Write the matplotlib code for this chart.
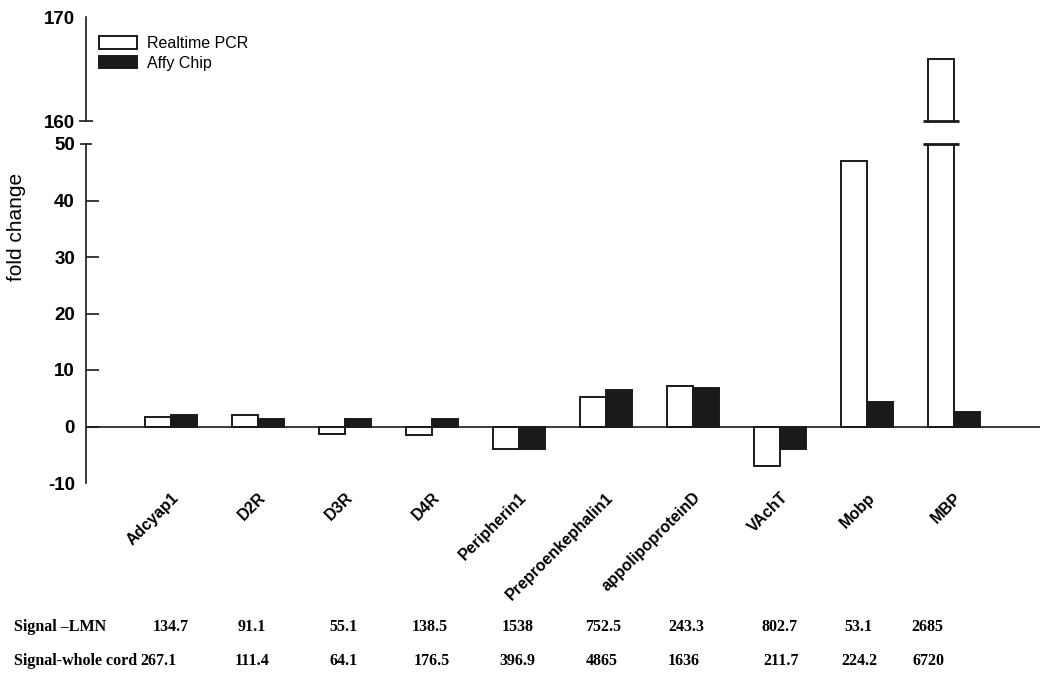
import numpy as np
import matplotlib
matplotlib.use("Agg")
import matplotlib.pyplot as plt
import matplotlib.transforms as mtransforms

plt.rcParams['font.family'] = ['Liberation Sans', 'DejaVu Sans']
plt.rcParams['axes.unicode_minus'] = False

genes = ['Adcyap1', 'D2R', 'D3R', 'D4R', 'Peripherin1', 'Preproenkephalin1',
         'appolipoproteinD', 'VAchT', 'Mobp', 'MBP']
pcr = [1.6, 2.1, -1.3, -1.5, -4.0, 5.2, 7.1, -7.0, 47.0, 166.0]
affy = [2.1, 1.3, 1.3, 1.3, -4.0, 6.5, 6.8, -4.0, 4.3, 2.5]
signal_lmn = ['134.7', '91.1', '55.1', '138.5', '1538', '752.5', '243.3', '802.7', '53.1', '2685']
signal_cord = ['267.1', '111.4', '64.1', '176.5', '396.9', '4865', '1636', '211.7', '224.2', '6720']

# small horizontal nudges (pixels) of the signal columns, as in the original
nudge_lmn = [0, -6, -1, -2, -1, -3, -7, 0, -9, -27]
nudge_cord = [-12, -6, -1, 0, -2, -4, -9, 1, -8, -25]

W, H = 1050, 675
def px(l, t, r, b):
    return [l / W, 1 - b / H, (r - l) / W, (b - t) / H]

fig = plt.figure(figsize=(W / 100, H / 100), dpi=100)
ax_top = fig.add_axes(px(86, 17, 1040, 121))
ax = fig.add_axes(px(86, 144, 1040, 483))

x = np.arange(len(genes))
w = 0.30
dark = '#1a1a1a'
lw = 1.4

for a in (ax, ax_top):
    a.bar(x - w / 2, pcr, w, color='white', edgecolor=dark, linewidth=lw, label='Realtime PCR')
    a.bar(x + w / 2, affy, w, color=dark, edgecolor=dark, linewidth=lw, label='Affy Chip')
    a.set_xlim(-0.977, 9.989)
    for s in ('top', 'right', 'bottom'):
        a.spines[s].set_visible(False)
    a.spines['left'].set_linewidth(1.2)
    a.spines['left'].set_color(dark)

ax.set_ylim(-10, 50)
ax_top.set_ylim(160, 170)
ax.axhline(0, color=dark, linewidth=1.2, zorder=3)

# break marks for bars running past the lower axis
pcr_arr = np.array(pcr)
big = x[pcr_arr > 50] - w / 2
ax.hlines([50] * len(big), big - w / 2 - 0.06, big + w / 2 + 0.06, color=dark, linewidth=2, clip_on=False)
ax_top.hlines([160] * len(big), big - w / 2 - 0.06, big + w / 2 + 0.06, color=dark, linewidth=2, clip_on=False)

ax.set_yticks([-10, 0, 10, 20, 30, 40, 50])
ax_top.set_yticks([160, 170])
for a in (ax, ax_top):
    a.tick_params(axis='y', direction='in', length=9, width=1.2, pad=8, labelsize=13.5, color=dark)
    for lab in a.get_yticklabels():
        lab.set_fontweight('bold')
ax.yaxis.get_major_ticks()[0].tick1line.set_visible(False)
ax.yaxis.get_major_ticks()[-1].tick1line.set_marker('_')
ax.yaxis.get_major_ticks()[-1].tick1line.set_markersize(8)
ax_top.yaxis.get_major_ticks()[0].tick1line.set_marker('_')
ax_top.yaxis.get_major_ticks()[0].tick1line.set_markersize(10)
ax_top.yaxis.get_major_ticks()[1].tick1line.set_visible(False)

ax_top.set_xticks([])
ax.set_xticks(x)
ax.set_xticklabels(genes, rotation=45, ha='right', rotation_mode='anchor',
                   fontweight='bold', fontsize=11.5)
ax.tick_params(axis='x', length=0, pad=5)

fig.text(17 / W, 1 - 227 / H, 'fold change', rotation=90, ha='center', va='center', fontsize=15)

handles, labels = ax.get_legend_handles_labels()
fig.legend(handles, labels, loc='upper left', bbox_to_anchor=(99 / W, 1 - 36 / H),
           frameon=False, fontsize=11.5, handlelength=2.4, handleheight=0.8,
           handletextpad=0.6, labelspacing=0.3, borderpad=0, borderaxespad=0)

# signal table under the chart
tfont = dict(family=['Liberation Serif', 'DejaVu Serif'], fontweight='bold', fontsize=11.5)
rows = [('Signal \u2013LMN', signal_lmn, nudge_lmn, 627),
        ('Signal-whole cord', signal_cord, nudge_cord, 661)]
for name, vals, nud, ypix in rows:
    fig.text(14 / W, 1 - ypix / H, name, ha='left', va='center', **tfont)
    for i, v in enumerate(vals):
        tr = mtransforms.blended_transform_factory(ax.transData, fig.transFigure)
        tr = tr + mtransforms.ScaledTranslation(nud[i] / 100, 0, fig.dpi_scale_trans)
        fig.text(x[i], 1 - ypix / H, v, transform=tr, ha='center', va='center', **tfont)

fig.savefig('out.png', dpi=100)
